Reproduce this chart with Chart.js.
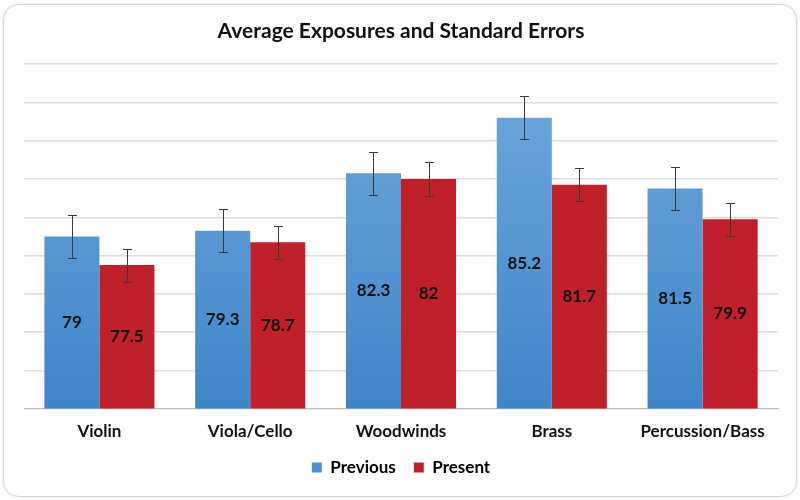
<!DOCTYPE html>
<html>
<head>
<meta charset="utf-8">
<script src="https://cdn.jsdelivr.net/npm/chart.js@4.4.0/dist/chart.umd.min.js"></script>
<style>
  html, body { margin: 0; padding: 0; background: #fff; }
  #card {
    position: absolute; left: 3px; top: 4px; width: 792px; height: 491px;
    border: 1px solid #d6d6d6; border-radius: 16px;
    box-shadow: 0 0 3px rgba(0, 0, 0, 0.12);
  }
  #wrap { position: absolute; left: 0; top: 0; width: 800px; height: 500px; }
</style>
</head>
<body>
<div id="card"></div>
<div id="wrap"><canvas id="chart"></canvas></div>
<script>
const categories = ['Violin', 'Viola/Cello', 'Woodwinds', 'Brass', 'Percussion/Bass'];
const previous = [79, 79.3, 82.3, 85.2, 81.5];
const present = [77.5, 78.7, 82, 81.7, 79.9];
const previousErr = [1.11, 1.13, 1.12, 1.13, 1.13];
const presentErr = [0.86, 0.86, 0.87, 0.86, 0.86];
const yMin = 70, yMax = 88, yStep = 2;

const FONT = 'Lato, "Open Sans", sans-serif';
const BLUE = '#4f8fd0';
const RED = '#c0202a';

function blueGradient(ctx) {
    const area = ctx.chart.chartArea;
    if (!area) return BLUE;
    const g = ctx.chart.ctx.createLinearGradient(0, area.top, 0, area.bottom);
    g.addColorStop(0, '#72a9de');
    g.addColorStop(1, '#3d86c8');
    return g;
}

// error bars drawn from the y scale
const errorBars = {
    id: 'errorBars',
    afterDatasetsDraw(chart) {
        const ctx = chart.ctx;
        const y = chart.scales.y;
        ctx.save();
        ctx.strokeStyle = '#3a3a3a';
        ctx.lineWidth = 1;
        chart.data.datasets.forEach((ds, i) => {
            const meta = chart.getDatasetMeta(i);
            meta.data.forEach((bar, j) => {
                const v = ds.data[j], e = ds.errors[j];
                const top = Math.round(y.getPixelForValue(v + e)) + 0.5;
                const bot = Math.round(y.getPixelForValue(v - e)) + 0.5;
                const x = Math.round(bar.x) + 0.5;
                ctx.beginPath();
                ctx.moveTo(x, top); ctx.lineTo(x, bot);
                ctx.moveTo(x - 4.5, top); ctx.lineTo(x + 4.5, top);
                ctx.moveTo(x - 4.5, bot); ctx.lineTo(x + 4.5, bot);
                ctx.stroke();
            });
        });
        ctx.restore();
    }
};

// value labels in the middle of each bar
const barLabels = {
    id: 'barLabels',
    afterDraw(chart) {
        const ctx = chart.ctx;
        const y = chart.scales.y;
        ctx.save();
        ctx.font = 'bold 17px ' + FONT;
        ctx.fillStyle = '#111111';
        ctx.textAlign = 'center';
        ctx.textBaseline = 'middle';
        chart.data.datasets.forEach((ds, i) => {
            chart.getDatasetMeta(i).data.forEach((bar, j) => {
                const mid = (y.getPixelForValue(ds.data[j]) + y.getPixelForValue(yMin)) / 2;
                ctx.fillText(String(ds.data[j]), bar.x, mid);
            });
        });
        ctx.restore();
    }
};

new Chart(document.getElementById('chart'), {
    type: 'bar',
    data: {
        labels: categories,
        datasets: [
            { label: 'Previous', data: previous, errors: previousErr, backgroundColor: blueGradient,
              categoryPercentage: 0.73, barPercentage: 1.0 },
            { label: 'Present', data: present, errors: presentErr, backgroundColor: RED,
              categoryPercentage: 0.73, barPercentage: 1.0 }
        ]
    },
    options: {
        responsive: true,
        maintainAspectRatio: false,
        animation: false,
        layout: { padding: { left: 24, right: 22, top: 0, bottom: 14 } },
        plugins: {
            title: {
                display: true,
                text: 'Average Exposures and Standard Errors',
                color: '#111',
                font: { family: FONT, size: 21, weight: 'bold' },
                padding: { top: 19, bottom: 20 }
            },
            legend: {
                position: 'bottom',
                labels: {
                    color: '#111',
                    font: { family: FONT, size: 17, weight: 'bold' },
                    boxWidth: 10, boxHeight: 10, padding: 18,
                    generateLabels(chart) {
                        return chart.data.datasets.map((ds, i) => ({
                            text: ds.label,
                            fillStyle: i === 0 ? BLUE : RED,
                            strokeStyle: i === 0 ? BLUE : RED,
                            lineWidth: 0,
                            datasetIndex: i
                        }));
                    }
                }
            },
            tooltip: { enabled: false }
        },
        scales: {
            x: {
                grid: { display: false, drawTicks: false },
                border: { color: '#bfbfbf', width: 1 },
                ticks: { color: '#111', font: { family: FONT, size: 17, weight: 'bold' }, padding: 13 },
                afterFit(scale) { scale.height -= 14; }
            },
            y: {
                min: yMin, max: yMax,
                grid: { color: '#dedede', lineWidth: 1.5, drawTicks: false },
                border: { display: false },
                ticks: { display: false, stepSize: yStep }
            }
        }
    },
    plugins: [errorBars, barLabels]
});
</script>
</body>
</html>
